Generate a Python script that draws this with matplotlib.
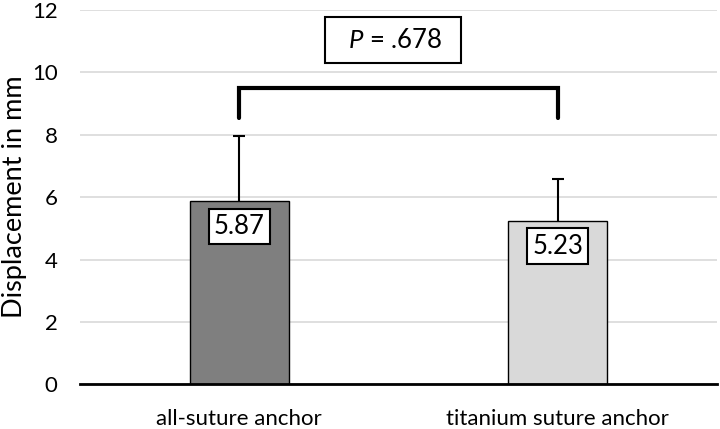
import matplotlib
matplotlib.use("Agg")
import matplotlib.pyplot as plt

categories = ["all-suture anchor", "titanium suture anchor"]
means = [5.87, 5.23]
sds = [2.09, 1.35]
value_labels = ["5.87", "5.23"]
p_text = ".678"
colors = ["#7f7f7f", "#d9d9d9"]

plt.rcParams['font.family'] = ['Lato', 'DejaVu Sans']
plt.rcParams['mathtext.fontset'] = 'custom'
plt.rcParams['mathtext.it'] = 'Lato:italic'
plt.rcParams['mathtext.rm'] = 'Lato'

fig = plt.figure(figsize=(7.2, 4.29), dpi=100)
ax = fig.add_axes([0.111, 0.1042, 0.885, 0.8725])

x = list(range(len(categories)))
ax.bar(x, means, width=0.31, color=colors, edgecolor="black", linewidth=1.0, zorder=3)
ax.errorbar(x, means, yerr=sds, fmt="none", ecolor="black",
            elinewidth=1.5, capsize=4, capthick=1.5, zorder=2.5)

for xi, m, lab in zip(x, means, value_labels):
    ax.text(xi, m - 0.8, lab, ha="center", va="center", fontsize=18.5, zorder=5,
            bbox=dict(boxstyle="square,pad=0.2", fc="white", ec="black", lw=1.5))

# significance bracket
y_low, y_high = 8.53, 9.51
ax.plot([x[0], x[0], x[1], x[1]], [y_low, y_high, y_high, y_low], color="black",
        lw=3, solid_capstyle="round", solid_joinstyle="miter", zorder=4)
ax.text(0.483, 11.03, "  $P$ = " + p_text + "  ", ha="center", va="center", fontsize=18.5,
        bbox=dict(boxstyle="square,pad=0.4", fc="white", ec="black", lw=1.5), zorder=5)

ax.set_xlim(-0.5, 1.5)
ax.set_ylim(0, 12)
ax.set_yticks(range(0, 13, 2))
ax.set_xticks(x)
ax.set_xticklabels(categories, fontsize=16)
ax.tick_params(axis="y", length=0, pad=16, labelsize=16)
ax.tick_params(axis="x", length=0, pad=18)
ax.yaxis.grid(True, color="#d9d9d9", lw=1.2, zorder=0)
ax.set_axisbelow(True)
for s in ["top", "right", "left"]:
    ax.spines[s].set_visible(False)
ax.spines["bottom"].set_linewidth(2)
ax.spines["bottom"].set_zorder(6)
fig.text(0.003, 0.5405, "Displacement in mm", rotation=90, ha="left", va="center", fontsize=19.5)

fig.savefig("out.png", dpi=100)
